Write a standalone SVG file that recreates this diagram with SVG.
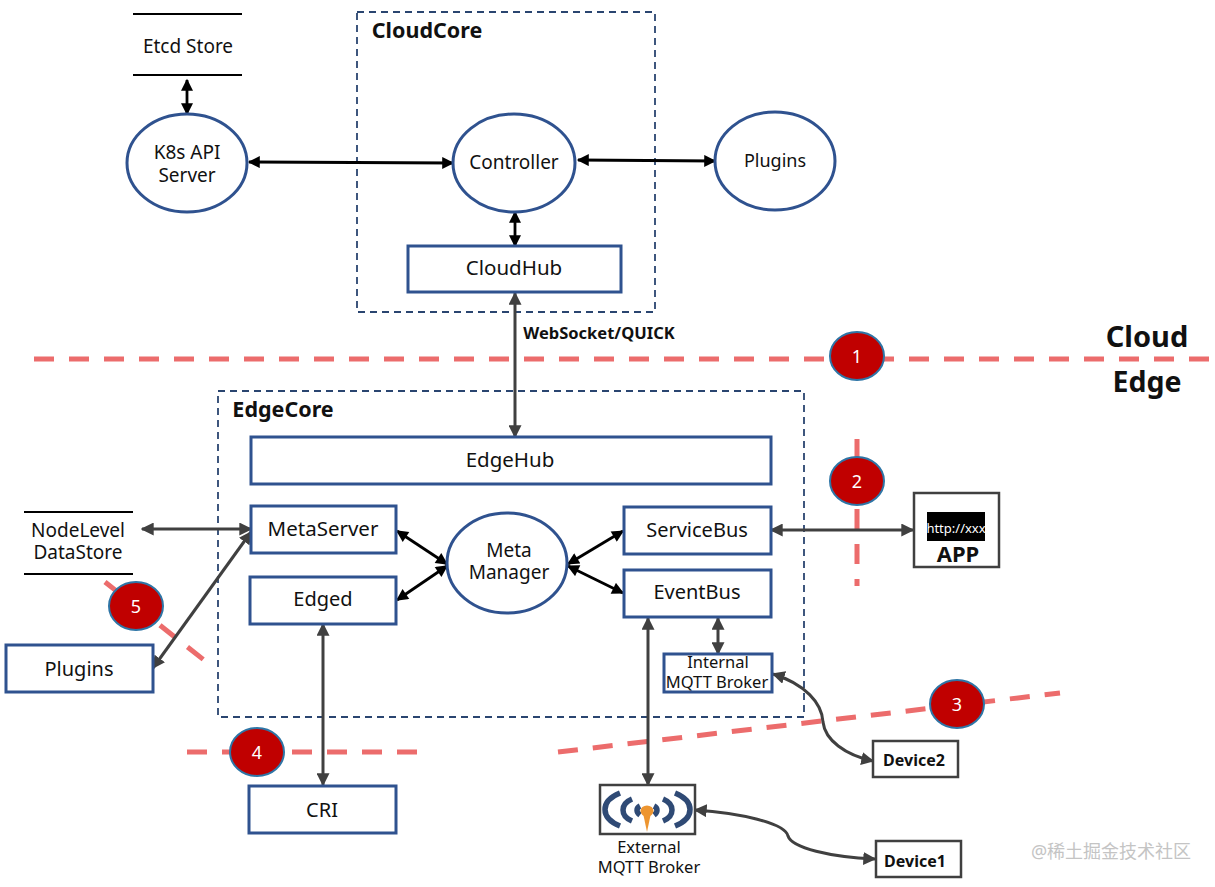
<svg xmlns="http://www.w3.org/2000/svg" width="1215" height="887" viewBox="0 0 1215 887">
<style>
text{font-family:"Noto Sans","Noto Sans CJK SC",sans-serif;fill:#111;text-anchor:middle}
.n{fill:#fff;stroke:#2f528f;stroke-width:3}
.k{fill:#fff;stroke:#404040;stroke-width:2.5}
.e{fill:#fff;stroke:#2f528f;stroke-width:3}
.frame{fill:none;stroke:#2a4570;stroke-width:1.8;stroke-dasharray:7 5}
.cut{fill:none;stroke:#ec6c6c;stroke-width:5;stroke-dasharray:20 15}
.badge{fill:#c00000;stroke:#2e75a6;stroke-width:2}
.num{fill:#fff;font-size:18px}
.t{font-size:19px}
.w{font-size:20.5px}
.s{font-size:16.5px}
.b{font-weight:700}
.blk{fill:none;stroke:#000;stroke-width:2.8;marker-start:url(#ab);marker-end:url(#ab)}
.gry{fill:none;stroke:#404040;stroke-width:3;marker-start:url(#ag);marker-end:url(#ag)}
.rule{stroke:#000;stroke-width:2}
</style>
<defs>
<marker id="ab" viewBox="0 0 10 10" refX="9" refY="5" markerWidth="14" markerHeight="12" markerUnits="userSpaceOnUse" orient="auto-start-reverse"><path d="M0 0L10 5L0 10z" fill="#000"/></marker>
<marker id="ag" viewBox="0 0 10 10" refX="9" refY="5" markerWidth="13" markerHeight="13" markerUnits="userSpaceOnUse" orient="auto-start-reverse"><path d="M0 0L10 5L0 10z" fill="#404040"/></marker>
</defs>

<g id="boundaries">
<path class="cut" d="M34 359H1212"/>
<path class="cut" d="M857 439V586"/>
<path class="cut" d="M558 752L1060 693"/>
<path class="cut" d="M187 752H418"/>
<path class="cut" d="M105 582L204 660"/>
</g>

<g id="cloudcore"><rect class="frame" x="357" y="12" width="298" height="300"/><text class="b" x="427" y="38" font-size="21.5">CloudCore</text></g>
<g id="edgecore"><rect class="frame" x="218" y="391" width="586" height="326"/><text class="b" x="283" y="417" font-size="21.5">EdgeCore</text></g>

<g id="connectors">
<path class="blk" d="M187 114V80"/>
<path class="blk" d="M249 162L453 163"/>
<path class="blk" d="M578 160L715 161"/>
<path class="blk" d="M515 212V246"/>
<path class="gry" d="M515 293V437"/>
<path class="gry" d="M142 529H251"/>
<path class="gry" d="M153 668L251 532"/>
<path class="blk" d="M397 531L447 564"/>
<path class="blk" d="M397 600L447 566"/>
<path class="blk" d="M568 564L623 531"/>
<path class="blk" d="M568 566L623 593"/>
<path class="gry" d="M771 530H913"/>
<path class="gry" d="M323 624V785"/>
<path class="gry" d="M648 618V785"/>
<path class="gry" d="M718 618V654"/>
<path class="gry" d="M773 674C805 684 822 703 823 722C825 740 845 755 873 761"/>
<path class="gry" d="M695 810C740 813 785 823 788 836C792 848 830 857 875 859"/>
</g>

<g id="etcd"><path class="rule" d="M133 14H242M133 75H242"/><text class="t" x="188" y="53">Etcd Store</text></g>
<g id="k8s"><ellipse class="e" cx="187" cy="163" rx="60" ry="49"/><text class="t" x="187"><tspan x="187" y="159">K8s API</tspan><tspan x="187" y="182">Server</tspan></text></g>
<g id="controller"><ellipse class="e" cx="514" cy="163" rx="61" ry="49"/><text class="t" x="514" y="169">Controller</text></g>
<g id="plugins-cloud"><ellipse class="e" cx="775" cy="161" rx="60" ry="49"/><text x="775" y="167" font-size="18">Plugins</text></g>
<g id="cloudhub"><rect class="n" x="408" y="246" width="213" height="46"/><text class="w" x="514" y="275">CloudHub</text></g>

<text class="b" x="599" y="339" font-size="16.5">WebSocket/QUICK</text>
<text class="b" x="1147" y="347" font-size="29">Cloud</text>
<text class="b" x="1147" y="392" font-size="28.5">Edge</text>

<g id="edgehub"><rect class="n" x="251" y="437" width="520" height="47"/><text class="w" x="510" y="467">EdgeHub</text></g>
<g id="metaserver"><rect class="n" x="251" y="506" width="145" height="47"/><text class="w" x="323" y="536">MetaServer</text></g>
<g id="edged"><rect class="n" x="250" y="577" width="146" height="47"/><text x="323" y="606" font-size="20">Edged</text></g>
<g id="metamanager"><ellipse class="e" cx="507" cy="563" rx="60" ry="50"/><text class="t"><tspan x="509" y="557">Meta</tspan><tspan x="509" y="579">Manager</tspan></text></g>
<g id="servicebus"><rect class="n" x="624" y="507" width="147" height="47"/><text x="697" y="537" font-size="20">ServiceBus</text></g>
<g id="eventbus"><rect class="n" x="624" y="570" width="147" height="47"/><text x="697" y="599" font-size="20">EventBus</text></g>
<g id="internal-broker"><rect class="n" x="664" y="654" width="108" height="38"/><text class="s"><tspan x="718" y="668">Internal</tspan><tspan x="717" y="688">MQTT Broker</tspan></text></g>

<g id="nodelevel"><path class="rule" d="M24 512H133M24 574H133"/><text class="t"><tspan x="78" y="537">NodeLevel</tspan><tspan x="78" y="559">DataStore</tspan></text></g>
<g id="plugins-edge"><rect class="n" x="6" y="645" width="147" height="47"/><text x="79" y="676" font-size="20">Plugins</text></g>
<g id="cri"><rect class="n" x="249" y="786" width="147" height="47"/><text x="322" y="817" font-size="20">CRI</text></g>

<g id="app"><rect class="k" x="914" y="493" width="85" height="74"/><rect x="927" y="512" width="58" height="29" fill="#000"/><text x="956" y="533" font-size="13" style="fill:#fff">http://xxx</text><text class="b" x="958" y="562" font-size="22">APP</text></g>

<g id="external-broker">
<rect class="k" x="600" y="785" width="95" height="49"/>
<g fill="none" stroke="#2f4a75" stroke-width="5.5" stroke-linecap="butt">
<path d="M620 793C600 801 600 818 620 826"/><path d="M632 799C620 804 620 816 632 821"/><path d="M640 806C636 808 636 812 640 815"/>
<path d="M675 793C695 801 695 818 675 826"/><path d="M663 799C675 804 675 816 663 821"/><path d="M654 806C658 808 658 812 654 815"/>
</g>
<ellipse cx="647" cy="811" rx="6.5" ry="5.5" fill="#ed9530"/><path d="M643 813H651L647 832z" fill="#ed9530"/>
<text class="s"><tspan x="649" y="853">External</tspan><tspan x="649" y="873">MQTT Broker</tspan></text>
</g>

<g id="device2"><rect class="k" x="873" y="741" width="85" height="36"/><text class="b" x="914" y="766" font-size="16">Device2</text></g>
<g id="device1"><rect class="k" x="876" y="841" width="85" height="36"/><text class="b" x="915" y="867" font-size="16">Device1</text></g>

<g id="badge1"><ellipse class="badge" cx="857" cy="356" rx="27" ry="24"/><text class="num" x="857" y="363">1</text></g>
<g id="badge2"><ellipse class="badge" cx="857" cy="481" rx="27" ry="24"/><text class="num" x="857" y="488">2</text></g>
<g id="badge3"><ellipse class="badge" cx="957" cy="704" rx="27" ry="24"/><text class="num" x="957" y="711">3</text></g>
<g id="badge4"><ellipse class="badge" cx="257" cy="752" rx="27" ry="24"/><text class="num" x="257" y="759">4</text></g>
<g id="badge5"><ellipse class="badge" cx="136" cy="606" rx="27" ry="24"/><text class="num" x="136" y="613">5</text></g>

<text x="1111" y="858" font-size="18" style="fill:#c4c4c4">@稀土掘金技术社区</text>
</svg>
